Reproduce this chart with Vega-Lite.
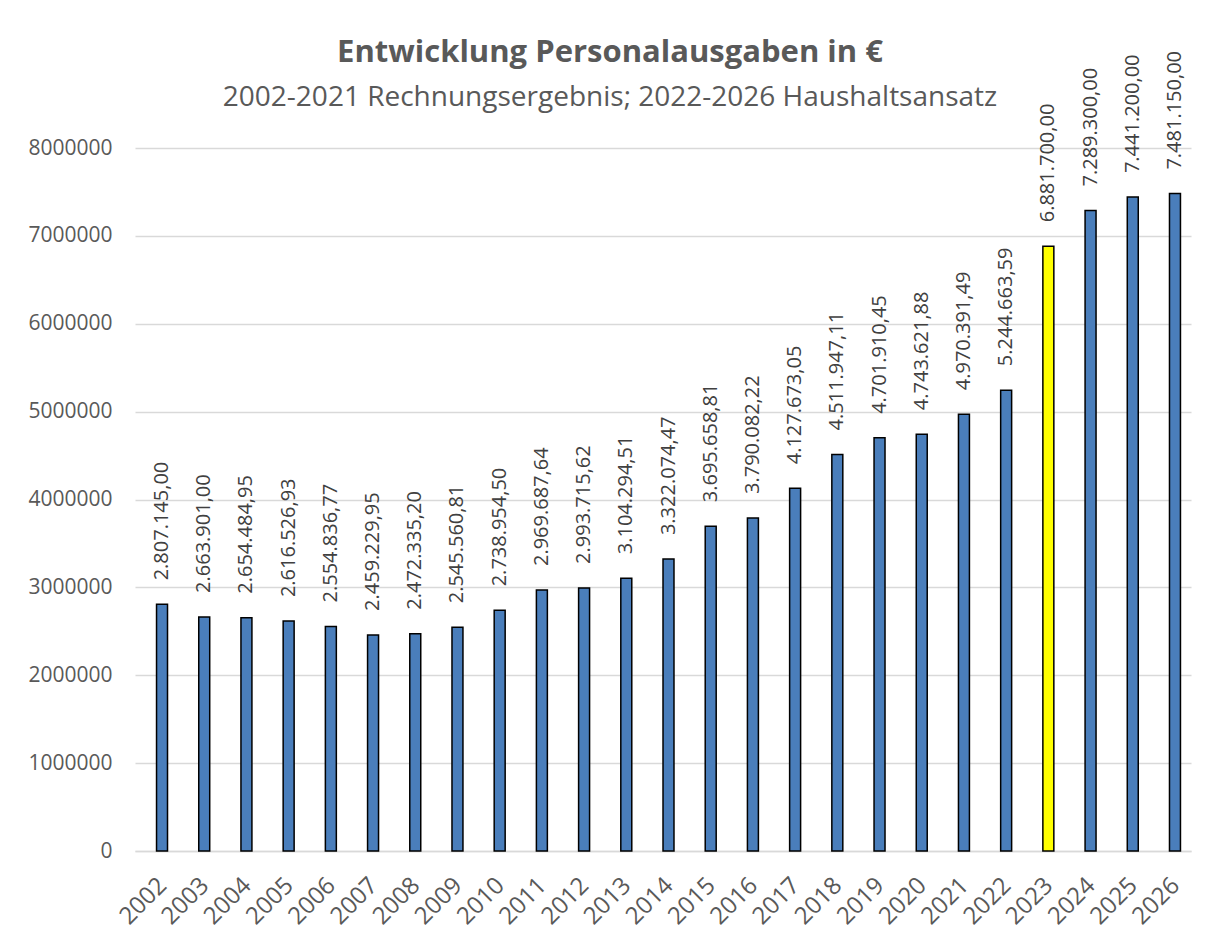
{
  "$schema": "https://vega.github.io/schema/vega-lite/v6.json",
  "width": 1056,
  "height": 703,
  "autosize": "none",
  "padding": {"left": 135, "top": 148, "right": 24, "bottom": 80},
  "background": "white",
  "config": {
    "locale": {"number": {"decimal": ",", "thousands": ".", "grouping": [3], "currency": ["", " €"]}},
    "view": {"stroke": null},
    "font": "Open Sans"
  },
  "title": {
    "text": "Entwicklung Personalausgaben in €",
    "subtitle": "2002-2021 Rechnungsergebnis; 2022-2026 Haushaltsansatz",
    "font": "Open Sans",
    "fontSize": 31,
    "fontWeight": "bold",
    "color": "#595959",
    "subtitleFont": "Open Sans",
    "subtitleFontSize": 28,
    "subtitleColor": "#595959",
    "subtitlePadding": 15,
    "anchor": "middle",
    "dx": -53,
    "offset": -62
  },
  "data": {
    "values": [
      {"jahr": "2002", "betrag": 2807145.00, "art": "Ist"},
      {"jahr": "2003", "betrag": 2663901.00, "art": "Ist"},
      {"jahr": "2004", "betrag": 2654484.95, "art": "Ist"},
      {"jahr": "2005", "betrag": 2616526.93, "art": "Ist"},
      {"jahr": "2006", "betrag": 2554836.77, "art": "Ist"},
      {"jahr": "2007", "betrag": 2459229.95, "art": "Ist"},
      {"jahr": "2008", "betrag": 2472335.20, "art": "Ist"},
      {"jahr": "2009", "betrag": 2545560.81, "art": "Ist"},
      {"jahr": "2010", "betrag": 2738954.50, "art": "Ist"},
      {"jahr": "2011", "betrag": 2969687.64, "art": "Ist"},
      {"jahr": "2012", "betrag": 2993715.62, "art": "Ist"},
      {"jahr": "2013", "betrag": 3104294.51, "art": "Ist"},
      {"jahr": "2014", "betrag": 3322074.47, "art": "Ist"},
      {"jahr": "2015", "betrag": 3695658.81, "art": "Ist"},
      {"jahr": "2016", "betrag": 3790082.22, "art": "Ist"},
      {"jahr": "2017", "betrag": 4127673.05, "art": "Ist"},
      {"jahr": "2018", "betrag": 4511947.11, "art": "Ist"},
      {"jahr": "2019", "betrag": 4701910.45, "art": "Ist"},
      {"jahr": "2020", "betrag": 4743621.88, "art": "Ist"},
      {"jahr": "2021", "betrag": 4970391.49, "art": "Ist"},
      {"jahr": "2022", "betrag": 5244663.59, "art": "Ist"},
      {"jahr": "2023", "betrag": 6881700.00, "art": "Hervorgehoben"},
      {"jahr": "2024", "betrag": 7289300.00, "art": "Ist"},
      {"jahr": "2025", "betrag": 7441200.00, "art": "Ist"},
      {"jahr": "2026", "betrag": 7481150.00, "art": "Ist"}
    ]
  },
  "encoding": {
    "x": {
      "field": "jahr",
      "type": "ordinal",
      "sort": null,
      "scale": {"paddingInner": 0.74, "paddingOuter": 0.38},
      "axis": {
        "title": null,
        "labelAngle": -45,
        "labelFontSize": 24,
        "labelColor": "#595959",
        "labelPadding": 22,
        "labelOffset": -2,
        "ticks": false,
        "domainColor": "#d9d9d9",
        "domainWidth": 1.5
      }
    },
    "y": {
      "field": "betrag",
      "type": "quantitative",
      "scale": {"domain": [0, 8000000], "nice": false},
      "axis": {
        "title": null,
        "format": "d",
        "values": [0, 1000000, 2000000, 3000000, 4000000, 5000000, 6000000, 7000000, 8000000],
        "labelOverlap": false,
        "labelFontSize": 21,
        "labelColor": "#595959",
        "labelPadding": 23,
        "ticks": false,
        "domain": false,
        "gridColor": "#d9d9d9",
        "gridWidth": 1.5
      }
    }
  },
  "layer": [
    {
      "mark": {"type": "bar", "stroke": "black", "strokeWidth": 1.5, "xOffset": 5.5},
      "encoding": {
        "color": {
          "field": "art",
          "type": "nominal",
          "scale": {"domain": ["Ist", "Hervorgehoben"], "range": ["#4a7ebb", "#ffff00"]},
          "legend": null
        }
      }
    },
    {
      "mark": {"type": "text", "angle": 270, "align": "left", "baseline": "middle", "dx": 24, "xOffset": 5.5, "fontSize": 20, "color": "#404040"},
      "encoding": {
        "text": {"field": "betrag", "type": "quantitative", "format": ",.2f"}
      }
    }
  ]
}
